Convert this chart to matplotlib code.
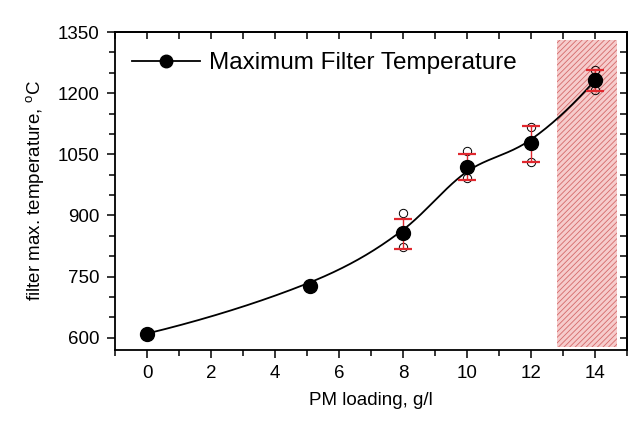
import numpy as np
import matplotlib
matplotlib.use('Agg')
import matplotlib.pyplot as plt
from matplotlib.ticker import MultipleLocator

plt.rcParams['font.family'] = ['Liberation Sans', 'DejaVu Sans']
plt.rcParams['hatch.linewidth'] = 0.6

# Data
pm_loading = [0, 5.1, 8, 10, 12, 14]
max_temp = [610, 727, 856, 1018, 1077, 1232]

# error bars (only the last four points have repeats)
err_x = [8, 10, 12, 14]
err_mean = [856, 1018, 1077, 1232]
err_low = [818, 987, 1032, 1206]
err_high = [892, 1050, 1120, 1258]

# individual repeat measurements (open circles)
rep_x = [8, 8, 10, 10, 12, 12, 14, 14]
rep_temp = [907, 822, 1057, 992, 1116, 1030, 1256, 1208]

# shaded zone
zone_x = [12.8, 14.7]
zone_y = [578, 1330]


def hermite_line(x, y, xs):
    """Catmull-Rom style curve through the points."""
    x = np.asarray(x, float)
    y = np.asarray(y, float)
    h = np.diff(x)
    d = np.zeros_like(y)
    for i in range(1, len(x) - 1):
        d[i] = (y[i + 1] - y[i - 1]) / (x[i + 1] - x[i - 1])
    d[0] = max(2 * (y[1] - y[0]) / h[0] - d[1], 0.5 * (y[1] - y[0]) / h[0])
    d[-1] = 2 * (y[-1] - y[-2]) / h[-1] - d[-2]
    ys = np.empty_like(xs)
    for k, xv in enumerate(xs):
        i = min(np.searchsorted(x, xv, side='right') - 1, len(x) - 2)
        t = (xv - x[i]) / h[i]
        ys[k] = ((2 * t ** 3 - 3 * t ** 2 + 1) * y[i] + (t ** 3 - 2 * t ** 2 + t) * h[i] * d[i]
                 + (-2 * t ** 3 + 3 * t ** 2) * y[i + 1] + (t ** 3 - t ** 2) * h[i] * d[i + 1])
    return ys


def bspline_line(x, y, n=400, k=3):
    """Clamped cubic B-spline with the points as control points."""
    pts = np.column_stack([x, y]).astype(float)
    m = len(pts)
    knots = np.concatenate([np.zeros(k + 1), np.arange(1, m - k),
                            np.full(k + 1, m - k)]).astype(float)
    ts = np.linspace(0, m - k, n)
    ts[-1] -= 1e-9

    def basis(i, p, t):
        if p == 0:
            return 1.0 if knots[i] <= t < knots[i + 1] else 0.0
        a = 0.0
        if knots[i + p] != knots[i]:
            a = (t - knots[i]) / (knots[i + p] - knots[i]) * basis(i, p - 1, t)
        b = 0.0
        if knots[i + p + 1] != knots[i + 1]:
            b = (knots[i + p + 1] - t) / (knots[i + p + 1] - knots[i + 1]) * basis(i + 1, p - 1, t)
        return a + b

    curve = np.array([sum(basis(i, k, t) * pts[i] for i in range(m)) for t in ts])
    return curve[:, 0], curve[:, 1]


fig = plt.figure(figsize=(6.36, 4.22), dpi=100)
ax = fig.add_axes([0.181, 0.171, 0.805, 0.753])

# hatched red zone
ax.fill_between(zone_x, zone_y[0], zone_y[1], facecolor='#f6cccc',
                edgecolor='#d46a6a', hatch='//////', linewidth=0, zorder=1)

# smooth line: halfway between an interpolating and an approximating spline
bx, by = bspline_line(pm_loading, max_temp)
xs = np.linspace(pm_loading[0], pm_loading[-1], 400)
ys = 0.5 * (hermite_line(pm_loading, max_temp, xs) + np.interp(xs, bx, by))
ax.plot(xs, ys, color='black', linewidth=1.3, zorder=3)

# repeat measurements
ax.plot(rep_x, rep_temp, linestyle='none', marker='o', markersize=6,
        markerfacecolor='none', markeredgecolor='black', markeredgewidth=0.7, zorder=2)

# error bars
yerr = [np.array(err_mean) - np.array(err_low), np.array(err_high) - np.array(err_mean)]
ax.errorbar(err_x, err_mean, yerr=yerr, fmt='none', ecolor='#e0282e',
            elinewidth=1.0, capsize=6.5, capthick=1.6, zorder=4)

# mean points
ax.plot(pm_loading, max_temp, linestyle='none', marker='o', markersize=10,
        color='black', zorder=5)

# legend handle
handle, = ax.plot([], [], color='black', linewidth=1.3, marker='o', markersize=9)
leg = ax.legend([handle], ['Maximum Filter Temperature'], loc='upper left',
                frameon=False, fontsize=17.5, handlelength=2.8, handletextpad=0.35,
                borderaxespad=0.3, bbox_to_anchor=(0.0, 0.99))

ax.set_xlim(-1, 15)
ax.set_ylim(570, 1350)
ax.xaxis.set_major_locator(MultipleLocator(2))
ax.xaxis.set_minor_locator(MultipleLocator(1))
ax.yaxis.set_major_locator(MultipleLocator(150))
ax.yaxis.set_minor_locator(MultipleLocator(50))

ax.tick_params(which='both', direction='out', top=False, right=False,
               labelsize=13.5, width=1.1)
ax.tick_params(which='major', length=6, pad=5)
ax.tick_params(which='minor', length=4)

# mirrored inward ticks on top and right
sec_x = ax.secondary_xaxis('top')
sec_x.xaxis.set_major_locator(MultipleLocator(1))
sec_x.tick_params(direction='in', length=5, width=1.1, labeltop=False)
sec_y = ax.secondary_yaxis('right')
sec_y.yaxis.set_major_locator(MultipleLocator(50))
sec_y.tick_params(direction='in', length=5, width=1.1, labelright=False)

for s in ax.spines.values():
    s.set_linewidth(1.3)
sec_x.spines['top'].set_linewidth(1.3)
sec_y.spines['right'].set_linewidth(1.3)

ax.set_xlabel('PM loading, g/l', fontsize=13.5, labelpad=7)
ax.set_ylabel('filter max. temperature, $^{\\mathregular{o}}$C', fontsize=13.5, labelpad=8)

fig.savefig('out.png', dpi=100)
